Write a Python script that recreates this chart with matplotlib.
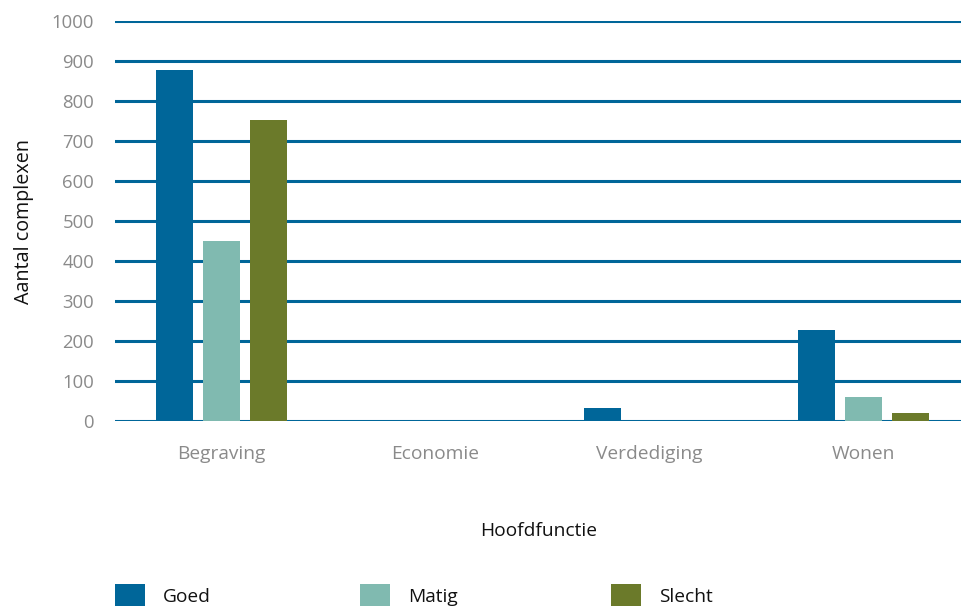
import matplotlib
matplotlib.use("Agg")
import matplotlib.pyplot as plt
import numpy as np
from matplotlib.patches import Patch

categories = ["Begraving", "Economie", "Verdediging", "Wonen"]
series = ["Goed", "Matig", "Slecht"]
goed = [878, 0, 32, 228]
matig = [450, 0, 0, 59]
slecht = [753, 0, 0, 20]
colors = ["#006699", "#80bab0", "#6b7a2a"]
yticks = [0, 100, 200, 300, 400, 500, 600, 700, 800, 900, 1000]

plt.rcParams["font.family"] = ["Open Sans", "DejaVu Sans"]

fig = plt.figure(figsize=(9.62, 6.06), dpi=100)
ax = fig.add_axes([115/962, 1-421/606, 1-115/962, 400/606])

x = np.arange(len(categories))
off = 0.22
w = 0.173
for i, (vals, c) in enumerate(zip([goed, matig, slecht], colors)):
    ax.bar(x + (i-1)*off, vals, width=w, color=c, zorder=3, label=series[i])

ax.set_ylim(0, 1000)
ax.set_xlim(-0.498, 3.46)
ax.set_yticks(yticks)
ax.set_yticklabels([str(t) for t in yticks], color="#8a8a8a", fontsize=13.3)
ax.set_xticks(x)
ax.set_xticklabels(categories, color="#8a8a8a", fontsize=13.8)
ax.tick_params(axis="y", length=0, pad=15)
ax.tick_params(axis="x", length=0, pad=17)
ax.yaxis.grid(True, color="#006699", linewidth=2.2, zorder=1)
ax.set_axisbelow(True)
for s in ax.spines.values():
    s.set_visible(False)
ax.set_ylabel("Aantal complexen", fontsize=14.2, color="#111111", labelpad=13)
ax.set_xlabel("Hoofdfunctie", fontsize=13.8, color="#111111", labelpad=43)

# legend entries at fixed positions
pos = [115, 360, 611]
for name, c, px in zip(series, colors, pos):
    h = Patch(facecolor=c, edgecolor="none")
    fig.legend([h], [name], loc="center left", bbox_to_anchor=(px/962, 1-596/606),
               frameon=False, fontsize=13.8, handlelength=1.56, handleheight=1.56,
               handletextpad=0.94, borderaxespad=0, borderpad=0, labelcolor="#111111")

fig.savefig("out.png", dpi=100)
